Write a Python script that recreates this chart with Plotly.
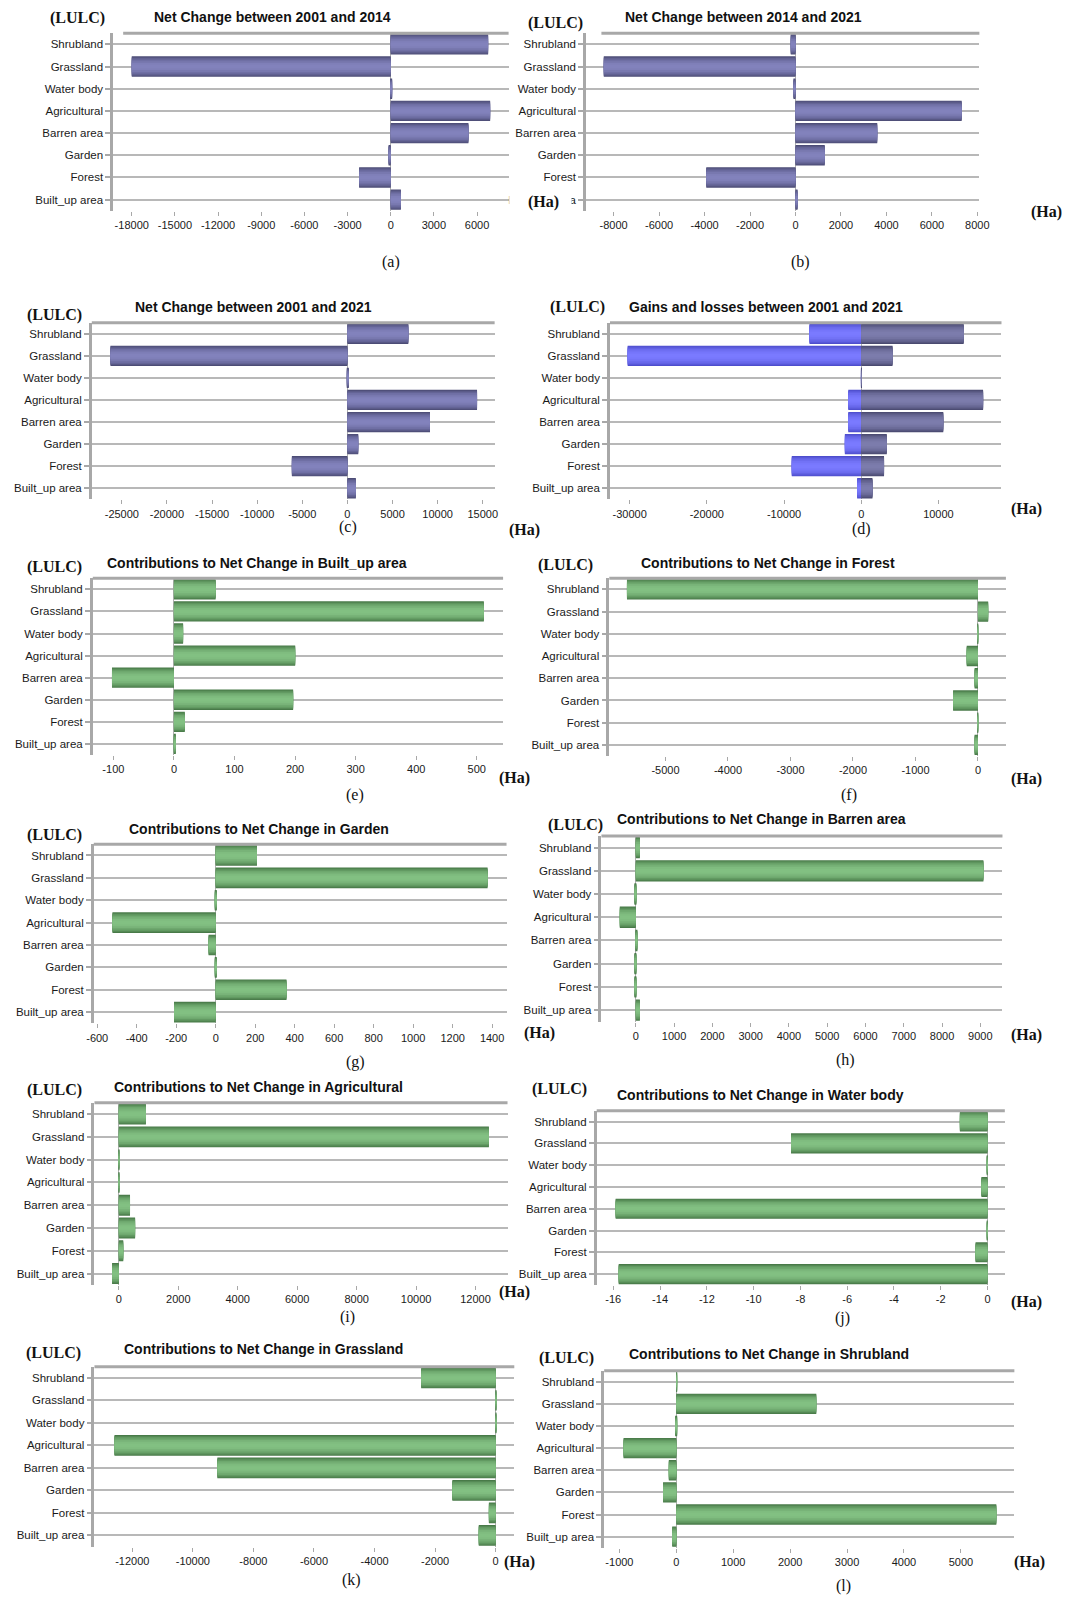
import plotly.graph_objects as go

W, H = 1073, 1598
OFF = 8  # default body margin of the html page

categories = ["Shrubland", "Grassland", "Water body", "Agricultural",
              "Barren area", "Garden", "Forest", "Built_up area"]

net_2001_2014 = [6770, -18000, 60, 6910, 5400, -150, -2195, 708]
net_2014_2021 = [-210, -8434, -90, 7310, 3595, 1288, -3925, 90]
net_2001_2021 = [6754, -26264, 100, 14370, 9155, 1200, -6153, 938]
losses_2001_2021 = [-6703, -30253, -20, -1676, -1676, -2117, -8996, -529]
gains_2001_2021 = [13274, 4057, 60, 15788, 10628, 3308, 2955, 1455]
contrib_builtup = [68.8, 511.7, 15.1, 200.2, -102.3, 196.8, 17.9, 2]
contrib_forest = [-5616, 163, -10, -180, -54, -398, -8, -54]
contrib_garden = [209, 1377, 5, -523, -36, 5, 358.5, -211]
contrib_barren = [107, 9080, -30, -418, 30, -30, -30, 107]
contrib_agri = [911, 12449, 20, 20, 376, 547, 148, -228]
contrib_water = [-1.18, -8.40, -0.02, -0.26, -15.9, -0.02, -0.51, -15.77]
contrib_grass = [-2460, 10, 10, -12589, -9190, -1431, -224, -559]
contrib_shrub = [10, 2459, -20, -927, -132, -233, 5623, -72]

ticks_a = [-18000, -15000, -12000, -9000, -6000, -3000, 0, 3000, 6000]
ticks_b = [-8000, -6000, -4000, -2000, 0, 2000, 4000, 6000, 8000]
ticks_c = [-25000, -20000, -15000, -10000, -5000, 0, 5000, 10000, 15000]
ticks_d = [-30000, -20000, -10000, 0, 10000]
ticks_e = [-100, 0, 100, 200, 300, 400, 500]
ticks_f = [-5000, -4000, -3000, -2000, -1000, 0]
ticks_g = [-600, -400, -200, 0, 200, 400, 600, 800, 1000, 1200, 1400]
ticks_h = [0, 1000, 2000, 3000, 4000, 5000, 6000, 7000, 8000, 9000]
ticks_i = [0, 2000, 4000, 6000, 8000, 10000, 12000]
ticks_j = [-16, -14, -12, -10, -8, -6, -4, -2, 0]
ticks_k = [-12000, -10000, -8000, -6000, -4000, -2000, 0]
ticks_l = [-1000, 0, 1000, 2000, 3000, 4000, 5000]

titles = [
    "Net Change between 2001 and 2014",
    "Net Change between 2014 and 2021",
    "Net Change between 2001 and 2021",
    "Gains and losses between 2001 and 2021",
    "Contributions to Net Change in Built_up area",
    "Contributions to Net Change in Forest",
    "Contributions to Net Change in Garden",
    "Contributions to Net Change in Barren area",
    "Contributions to Net Change in Agricultural",
    "Contributions to Net Change in Water body",
    "Contributions to Net Change in Grassland",
    "Contributions to Net Change in Shrubland",
]
panel_labels = ["(a)", "(b)", "(c)", "(d)", "(e)", "(f)", "(g)", "(h)", "(i)", "(j)", "(k)", "(l)"]

PURPLE = ((76, 76, 118), (130, 130, 188))
BLUE = ((78, 78, 205), (122, 122, 255))
GAINS = ((74, 74, 112), (124, 124, 172))
GREEN = ((72, 122, 72), (130, 192, 130))

series = [
    [(net_2001_2014, PURPLE)],
    [(net_2014_2021, PURPLE)],
    [(net_2001_2021, PURPLE)],
    [(losses_2001_2021, BLUE), (gains_2001_2021, GAINS)],
    [(contrib_builtup, GREEN)],
    [(contrib_forest, GREEN)],
    [(contrib_garden, GREEN)],
    [(contrib_barren, GREEN)],
    [(contrib_agri, GREEN)],
    [(contrib_water, GREEN)],
    [(contrib_grass, GREEN)],
    [(contrib_shrub, GREEN)],
]
tick_sets = [ticks_a, ticks_b, ticks_c, ticks_d, ticks_e, ticks_f,
             ticks_g, ticks_h, ticks_i, ticks_j, ticks_k, ticks_l]

# layout geometry (page pixels): left, right, top, bottom, xmin, xmax, title(x,y), lulc(x,y), ha(x,y), label(x,y), topline start
geo = [
    (106.8, 509.0, 33.3, 210.7, -19293, 8194, (268.6, 17.3), (70.6, 18.3), (545, 201.7), (389, 261.7), 117),
    (587.8, 987.8, 33.3, 210.7, -9213, 8089, (748.1, 17.3), (557, 22.7), (1056.3, 212), (806, 261.7), 603.4),
    (85.1, 494.8, 322.7, 499.3, -28330, 16320, (249.7, 307.3), (47.5, 315), (525, 530), (346, 527.3), 85.1),
    (612.1, 1010.3, 322.7, 499.3, -32546, 18169, (771.3, 306.7), (579.5, 307), (1035.5, 508.7), (867.6, 529), 612.1),
    (86.1, 503.4, 578.3, 755.0, -134, 543.5, (253.1, 562.7), (47.2, 566.7), (514.8, 777.7), (353, 795), 86.1),
    (611.4, 1014.8, 578.3, 756.0, -5899, 447, (772.4, 562.7), (566.4, 565), (1035.5, 779.3), (855.5, 795), 611.4),
    (87.1, 506.9, 844.3, 1023.3, -617.5, 1473, (255.5, 829), (47.2, 835), (540, 1033), (353, 1061.7), 87.1),
    (603.4, 1011.3, 836.0, 1021.7, -898, 9578, (766.5, 819), (576.7, 825), (1035.5, 1035), (852, 1060), 603.4),
    (87.8, 507.9, 1102.7, 1285.0, -820, 13076, (254.8, 1086.7), (47.2, 1090), (514.8, 1291.7), (345.6, 1316.5), 87.8),
    (598.6, 1013.7, 1110.7, 1285.0, -16.71, 0.742, (765.5, 1095), (561.2, 1089.3), (1035.5, 1301.7), (849, 1317.6), 598.6),
    (87.8, 514.8, 1366.7, 1546.7, -13249, 615, (260, 1349), (46.5, 1353.3), (520, 1561.7), (349.5, 1580), 87.8),
    (606.2, 1023.4, 1370.7, 1547.7, -1268, 5940, (773.4, 1354.3), (568, 1358.3), (1038.3, 1562.3), (849.3, 1586), 606.2),
]

SANS = "Liberation Sans, Arial, sans-serif"
SERIF = "Liberation Serif, Times New Roman, serif"
AXC = "#a8a8a8"

def mix(c1, c2, t):
    return "rgb(%d,%d,%d)" % tuple(round(a + (b - a) * t) for a, b in zip(c1, c2))

layers = [(0.92, 0.0), (0.84, 0.22), (0.74, 0.45), (0.62, 0.65), (0.48, 0.82), (0.32, 0.94), (0.16, 1.0)]

fig = go.Figure()
layout = dict(width=W, height=H, margin=dict(l=0, r=0, t=0, b=0), autosize=False,
              paper_bgcolor="white", plot_bgcolor="white", barmode="overlay",
              showlegend=False, hovermode=False)
shapes = []
annotations = []

def px_x(v):
    return (v - OFF) / W

def px_y(v):
    return 1 - (v - OFF) / H

for i, g in enumerate(geo):
    left, right, top, bottom, xmin, xmax, tpos, lpos, hpos, labpos, tstart = g
    n = i + 1
    xname = "x" if n == 1 else "x%d" % n
    yname = "y" if n == 1 else "y%d" % n
    xkey = "xaxis" if n == 1 else "xaxis%d" % n
    ykey = "yaxis" if n == 1 else "yaxis%d" % n
    for vals, (dark, light) in series[i]:
        for w, t in layers:
            fig.add_trace(go.Bar(x=vals, y=categories, orientation="h", width=w,
                                 marker=dict(color=mix(dark, light, t), line=dict(width=0)),
                                 xaxis=xname, yaxis=yname, hoverinfo="skip"))
    tks = tick_sets[i]
    layout[xkey] = dict(domain=[px_x(left), px_x(right)], anchor=yname, range=[xmin, xmax],
                        tickmode="array", tickvals=tks, ticktext=[str(t) for t in tks],
                        ticks="outside", ticklen=4, tickcolor=AXC, tickwidth=1,
                        showline=False, showgrid=False, zeroline=True,
                        zerolinecolor="#b0b0b0", zerolinewidth=1,
                        tickfont=dict(family=SANS, size=11, color="#1a1a1a"))
    layout[ykey] = dict(domain=[px_y(bottom), px_y(top)], anchor=xname, type="category",
                        categoryorder="array", categoryarray=categories, autorange="reversed",
                        showline=True, linecolor=AXC, linewidth=2.5,
                        ticks="outside", ticklen=5, tickcolor=AXC, tickwidth=1.5,
                        showgrid=True, gridcolor="#b8b8b8", gridwidth=1.5,
                        tickfont=dict(family=SANS, size=11.5, color="#1a1a1a"))
    shapes.append(dict(type="line", xref="paper", yref="paper",
                       x0=px_x(tstart), x1=px_x(right), y0=px_y(top), y1=px_y(top),
                       line=dict(color=AXC, width=3), layer="above"))
    annotations.append(dict(text="<b>%s</b>" % titles[i], x=px_x(tpos[0]), y=px_y(tpos[1]),
                            xref="paper", yref="paper", showarrow=False,
                            xanchor="center", yanchor="middle",
                            font=dict(family=SANS, size=14, color="#111")))
    annotations.append(dict(text="<b>(LULC)</b>", x=px_x(lpos[0]), y=px_y(lpos[1]),
                            xref="paper", yref="paper", showarrow=False,
                            xanchor="center", yanchor="middle",
                            font=dict(family=SERIF, size=16, color="#111")))
    annotations.append(dict(text="<b>(Ha)</b>", x=px_x(hpos[0]), y=px_y(hpos[1]),
                            xref="paper", yref="paper", showarrow=False,
                            xanchor="center", yanchor="middle",
                            font=dict(family=SERIF, size=16, color="#111")))
    annotations.append(dict(text=panel_labels[i], x=px_x(labpos[0]), y=px_y(labpos[1]),
                            xref="paper", yref="paper", showarrow=False,
                            xanchor="center", yanchor="middle",
                            font=dict(family=SERIF, size=16, color="#111")))

# white area of panel (a) overlapping the last label of panel (b)
shapes.append(dict(type="rect", xref="paper", yref="paper",
                   x0=px_x(509.6), x1=px_x(573), y0=px_y(212), y1=px_y(190),
                   fillcolor="white", line=dict(width=0), layer="above"))

layout["shapes"] = shapes
layout["annotations"] = annotations
fig.update_layout(**layout)
fig.write_html("out.html")
